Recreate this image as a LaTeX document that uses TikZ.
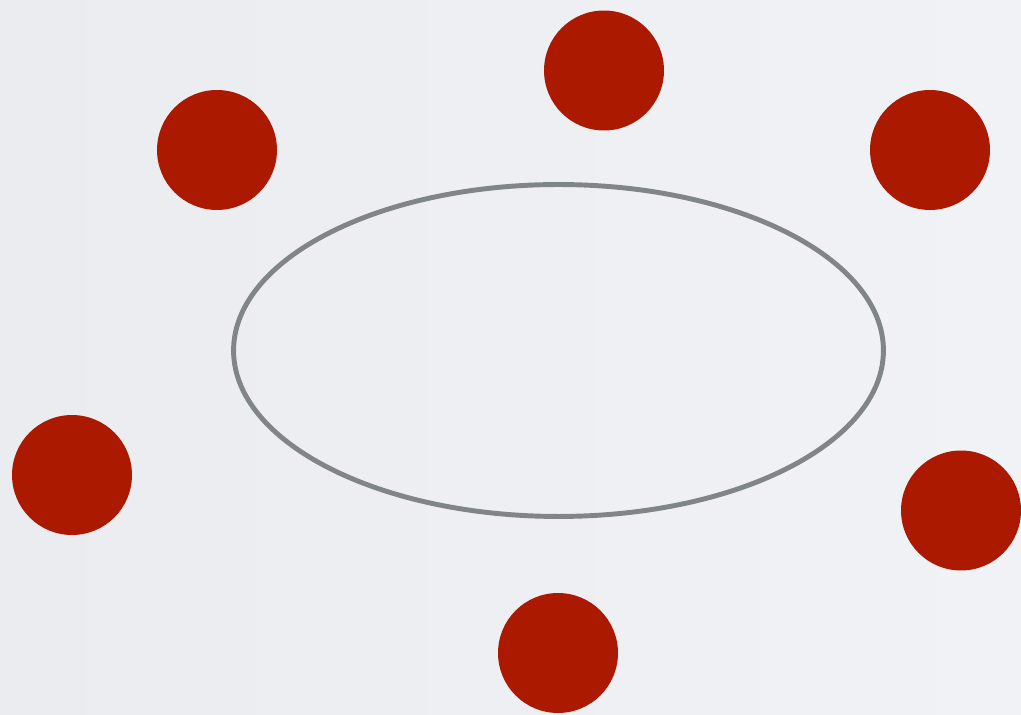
\documentclass[tikz,border=0pt]{standalone}
\usepackage{xcolor}
\definecolor{bgleft}{RGB}{234,236,240}
\definecolor{bgright}{RGB}{241,242,246}
\definecolor{dotred}{RGB}{170,25,0}
\definecolor{ringgray}{RGB}{128,134,133}
\usetikzlibrary{shapes.geometric}

\tikzset{
  dot/.style={circle, fill=dotred, draw=none, inner sep=0pt, minimum size=2.4cm},
  ring/.style={ellipse, draw=ringgray, line width=2.8pt, inner sep=0pt,
               minimum width=13.0cm, minimum height=6.64cm}
}

\begin{document}
\begin{tikzpicture}[x=0.02cm, y=-0.02cm]
  % Background
  \shade[left color=bgleft, right color=bgright] (0,0) rectangle (1021,715);
  \useasboundingbox (0,0) rectangle (1021,715);

  % Central ring
  \node[ring] (center) at (558.5,350.5) {};

  % Red dots around it
  \node[dot] (top)      at (604,70.5) {};
  \node[dot] (topleft)  at (217,150) {};
  \node[dot] (topright) at (930,150) {};
  \node[dot] (left)     at (72,475) {};
  \node[dot] (right)    at (961,510.5) {};
  \node[dot] (bottom)   at (558,653) {};
\end{tikzpicture}
\end{document}
